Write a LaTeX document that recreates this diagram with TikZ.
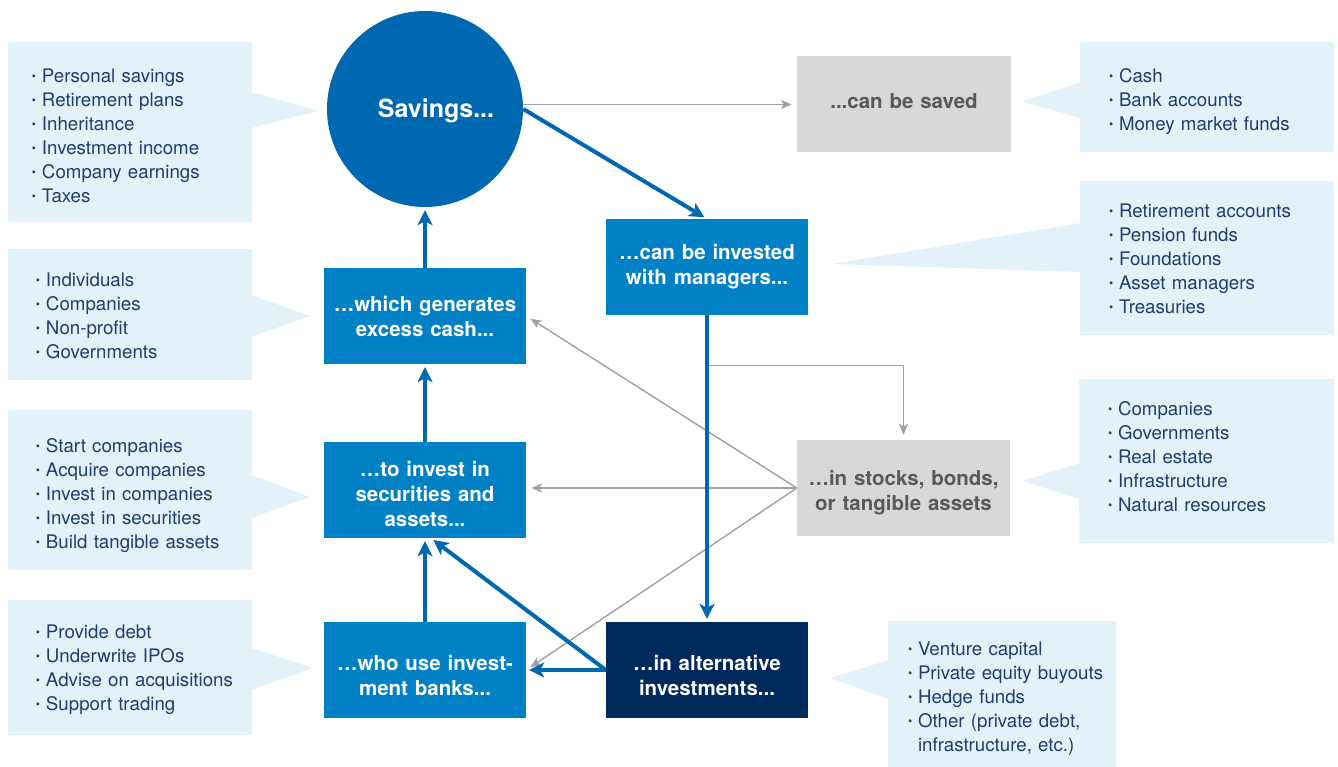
\documentclass[tikz,border=0pt]{standalone}
\usepackage{fontspec}
\setmainfont{TeX Gyre Heros}
\usetikzlibrary{arrows.meta,calc,positioning}

\definecolor{poolblue}{HTML}{0067B1}
\definecolor{stageblue}{HTML}{0080C5}
\definecolor{deepblue}{HTML}{012A5C}
\definecolor{sinkgray}{HTML}{D7D8DA}
\definecolor{sinktext}{HTML}{58595B}
\definecolor{notefill}{HTML}{E3F2F9}
\definecolor{notetext}{HTML}{213C6D}
\definecolor{linkgray}{HTML}{9EA0A3}

% small bullet in front of each list line
\newcommand{\bl}{\makebox[10pt][l]{\fontsize{12}{12}\selectfont\raisebox{2pt}{•}}}
% struts that move the text of a node down by the value of /tikz/text drop
\newcommand{\droptop}{\rule{0pt}{\dimexpr20pt+\pgfkeysvalueof{/tikz/text drop}\relax}}
\newcommand{\dropbot}{\rule[\dimexpr\pgfkeysvalueof{/tikz/text drop}-20pt\relax]{0pt}{0pt}}

\tikzset{
text drop/.initial=0pt,
pool/.style={circle,fill=poolblue,minimum size=196pt,inner sep=0pt,
    text=white,font=\bfseries\fontsize{25}{30}\selectfont,
    execute at begin node=\droptop,execute at end node=\dropbot},
stage/.style={rectangle,fill=stageblue,text width=202pt,minimum height=96pt,
    inner sep=0pt,align=center,text=white,font=\bfseries\fontsize{20.5}{25}\selectfont,
    execute at begin node=\droptop,execute at end node=\dropbot},
deep/.style={stage,fill=deepblue},
sink/.style={stage,fill=sinkgray,text=sinktext,text width=214pt},
note/.style={rectangle,fill=notefill,inner sep=0pt,align=left,text=notetext,
    font=\fontsize{18.7}{24}\selectfont,
    execute at begin node={\leftskip=#1\droptop},execute at end node=\dropbot},
tail/.style={fill=notefill},
flow/.style={draw=poolblue,line width=4pt,
    -{Stealth[length=15pt,width=15pt,inset=4pt]},shorten >=3pt},
thin flow/.style={draw=linkgray,line width=1.4pt,
    -{Stealth[length=11pt,width=9pt,inset=3pt]},shorten >=5pt},
}

\begin{document}
\begin{tikzpicture}[x=1pt,y=-1pt]
    \useasboundingbox (0,0) rectangle (1338,767);

    % the chain
    \node[pool,text drop=9pt] (savings) at (425,109) {\hspace*{22pt}Savings...};
    \node[sink,text drop=4.5pt] (saved) at (904,104.5) {...can be saved};
    \node[stage,text drop=5pt] (managers) at (707,267) {…can be invested\\with managers...};
    \node[stage,text drop=7.5pt] (excess) at (425,316) {…which generates\\excess cash...};
    \node[stage,text drop=11pt] (securities) at (425,490) {…to invest in\\securities and\\assets...};
    \node[stage,text drop=13pt] (banks) at (425,670) {…who use invest-\\ment banks...};
    \node[deep,text drop=13pt] (alts) at (707,670) {…in alternative\\investments...};
    \node[sink,text drop=9.5pt,text width=213pt] (stocks) at (903.5,488) {…in stocks, bonds,\\or tangible assets};

    % side notes
    \node[note=24pt,text drop=10.5pt,text width=244pt,minimum height=180pt] (srcnote) at (130,132)
        {\bl Personal savings\\ \bl Retirement plans\\ \bl Inheritance\\
         \bl Investment income\\ \bl Company earnings\\ \bl Taxes};
    \node[note=28pt,text drop=8pt,text width=244pt,minimum height=131pt] (whonote) at (130,314.5)
        {\bl Individuals\\ \bl Companies\\ \bl Non-profit\\ \bl Governments};
    \node[note=28pt,text drop=10.5pt,text width=244pt,minimum height=160pt] (usenote) at (130,490)
        {\bl Start companies\\ \bl Acquire companies\\ \bl Invest in companies\\
         \bl Invest in securities\\ \bl Build tangible assets};
    \node[note=28pt,text drop=7pt,text width=244pt,minimum height=135pt] (banknote) at (130,667.5)
        {\bl Provide debt\\ \bl Underwrite IPOs\\ \bl Advise on acquisitions\\
         \bl Support trading};
    \node[note=29pt,text drop=9.5pt,text width=254pt,minimum height=110pt] (keepnote) at (1207,97)
        {\bl Cash\\ \bl Bank accounts\\ \bl Money market funds};
    \node[note=29pt,text drop=7.5pt,text width=254pt,minimum height=154pt] (mgrnote) at (1207,258)
        {\bl Retirement accounts\\ \bl Pension funds\\ \bl Foundations\\
         \bl Asset managers\\ \bl Treasuries};
    \node[note=29pt,text drop=2.5pt,text width=255pt,minimum height=164pt] (assetnote) at (1206.5,461)
        {\bl Companies\\ \bl Governments\\ \bl Real estate\\
         \bl Infrastructure\\ \bl Natural resources};
    \node[note=20pt,text drop=9.5pt,text width=228pt,minimum height=146pt] (altnote) at (1002,694)
        {\bl Venture capital\\ \bl Private equity buyouts\\ \bl Hedge funds\\
         \bl Other (private debt,\\ \hspace*{10pt}infrastructure, etc.)};

    % pointers of the notes
    \fill[tail] ($(srcnote.east)+(-1,-40)$) -- ($(savings.west)+(-9,2)$) -- ($(srcnote.east)+(-1,-4)$) -- cycle;
    \fill[tail] ($(whonote.east)+(-1,-19.5)$) -- ($(excess.west)+(-14,0)$) -- ($(whonote.east)+(-1,22.5)$) -- cycle;
    \fill[tail] ($(usenote.east)+(-1,-15)$) -- ($(securities.west)+(-14,7)$) -- ($(usenote.east)+(-1,28)$) -- cycle;
    \fill[tail] ($(banknote.east)+(-1,-19.5)$) -- ($(banks.west)+(-11,-2)$) -- ($(banknote.east)+(-1,22.5)$) -- cycle;
    \fill[tail] ($(keepnote.west)+(1,-15)$) -- ($(saved.east)+(11,-3)$) -- ($(keepnote.west)+(1,21)$) -- cycle;
    \fill[tail] ($(mgrnote.west)+(1,-35)$) -- ($(managers.east)+(24,-3)$) -- ($(mgrnote.west)+(1,14)$) -- cycle;
    \fill[tail] ($(assetnote.west)+(1,2)$) -- ($(stocks.east)+(12,-7)$) -- ($(assetnote.west)+(1,38)$) -- cycle;
    \fill[tail] ($(altnote.west)+(1,-34)$) -- ($(alts.east)+(22,8)$) -- ($(altnote.west)+(1,5)$) -- cycle;

    % grey links
    \coordinate (fork) at ([yshift=-50pt]managers.south);
    \draw[thin flow] (savings.east |- saved.west) -- (saved.west);
    \draw[thin flow] (fork) -| (stocks.north);
    \draw[thin flow] (stocks.west) -- (excess.east);
    \draw[thin flow] (stocks.west) -- (stocks.west -| securities.east);
    \draw[thin flow] (stocks.west) -- (banks.east);

    % blue links
    \draw[flow] (savings.east) -- (managers.north);
    \draw[flow] (managers.south) -- (alts.north);
    \draw[flow] (alts.west) -- (banks.east);
    \draw[flow] (alts.west) -- ([xshift=6pt]securities.south);
    \draw[flow] (banks.north) -- (securities.south);
    \draw[flow] (securities.north) -- (excess.south);
    \draw[flow] (excess.north) -- (savings.south);
\end{tikzpicture}
\end{document}
